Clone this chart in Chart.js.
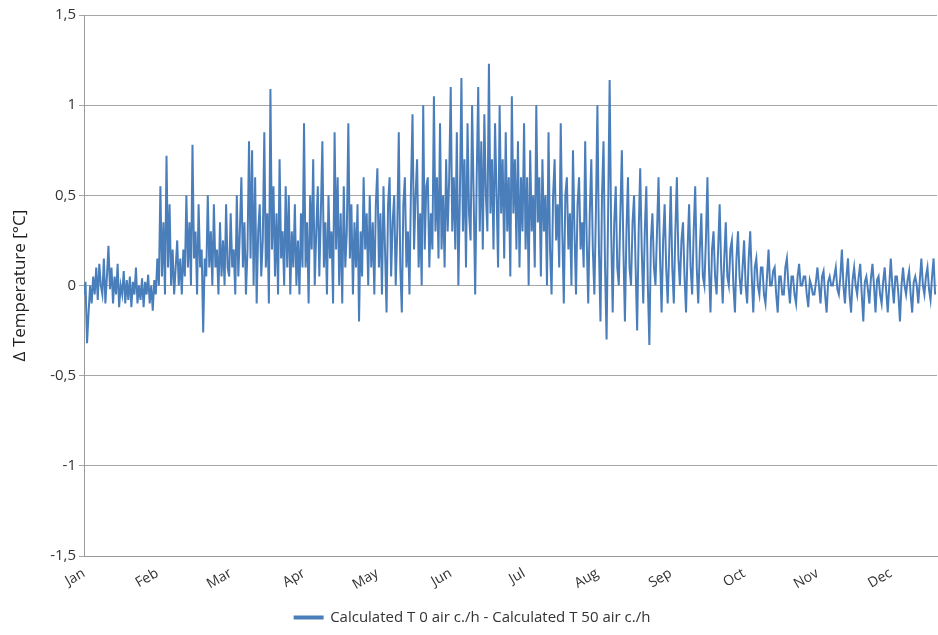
<!DOCTYPE html>
<html><head><meta charset="utf-8">
<script src="https://cdn.jsdelivr.net/npm/chart.js@4"></script>
<style>html,body{margin:0;background:#fff}#w{width:938px;height:635px}</style>
</head><body><div id="w"><canvas id="c"></canvas></div>
<script>
const months=["Jan","Feb","Mar","Apr","May","Jun","Jul","Aug","Sep","Oct","Nov","Dec"];
const seriesLabel="Calculated T 0 air c./h - Calculated T 50 air c./h";
const jan=[-0.05,0.02,-0.32,-0.15,0.0,-0.1,0.05,-0.05,0.1,-0.08,0.12,0.0,-0.05,0.15,-0.1,0.05,0.22,-0.02,0.1,-0.1,0.05,-0.05,0.12,-0.12,0.0,-0.05,0.08,-0.1,0.03,-0.08,0.05,-0.12,0.02,-0.05,0.1,-0.1,0.0,-0.08,0.04,-0.12,0.02,-0.05,0.06,-0.1,0.0,-0.14,0.03,-0.05];
const feb=[0.15,0.0,0.55,0.05,0.35,-0.05,0.72,0.1,0.45,0.0,0.2,-0.05,0.1,0.25,0.0,0.15,-0.05,0.2,0.05,0.5,0.1,0.35,0.0,0.78,0.15,0.3,-0.05,0.45,0.1,0.2,-0.26,0.15,0.05,0.5,0.1,0.3,0.0,0.45,0.1,0.2,-0.05,0.35,0.05,0.25,0.0,0.45,0.1,0.05];
const mar=[0.4,0.1,0.2,-0.05,0.5,0.05,0.3,0.6,0.1,0.35,-0.05,0.2,0.8,0.15,0.75,0.0,0.6,-0.1,0.3,0.45,0.05,0.25,0.85,0.1,0.4,-0.1,1.09,0.2,0.55,0.05,0.4,-0.05,0.7,0.15,0.3,0.0,0.55,0.1,0.5,-0.05,0.3,0.1,0.45,0.0,0.25,-0.05,0.4,0.1];
const apr=[0.9,0.1,0.35,-0.1,0.5,0.2,0.7,0.0,0.3,0.55,0.05,0.4,0.8,0.1,0.35,-0.05,0.5,0.15,0.3,-0.1,0.85,0.2,0.6,0.0,0.4,-0.1,0.55,0.1,0.3,0.9,0.15,0.45,-0.05,0.35,0.1,0.45,-0.2,0.3,0.05,0.6,0.2,0.4,0.0,0.5,0.1,0.35,-0.05,0.45];
const may=[0.65,0.1,0.4,-0.05,0.55,0.2,-0.15,0.45,0.6,0.05,0.35,0.5,0.0,0.3,0.85,0.1,-0.15,0.45,0.6,0.1,0.3,-0.05,0.55,0.95,0.2,0.5,0.7,0.1,0.4,0.0,1.0,0.2,0.55,0.6,0.1,0.4,0.2,1.05,0.3,0.6,0.15,0.9,0.2,0.5,0.1,0.7,0.3,0.6];
const jun=[1.1,0.3,0.6,0.2,0.85,0.0,0.5,1.15,0.3,0.7,0.1,0.9,0.4,0.25,1.0,0.5,-0.05,0.6,1.1,0.3,0.8,0.2,0.95,0.5,0.3,1.23,0.4,0.7,0.2,0.9,0.5,0.1,1.0,0.4,0.7,0.15,0.85,0.3,0.6,0.05,1.05,0.4,0.7,0.2,0.8,0.1,0.6,0.3];
const jul=[0.9,0.2,0.6,0.0,0.75,0.3,0.5,0.1,1.0,0.35,0.6,0.05,0.7,0.3,0.5,0.0,0.85,0.2,-0.05,0.5,0.7,0.25,0.45,0.1,0.9,0.3,-0.1,0.5,0.6,0.2,0.4,0.0,0.75,0.3,-0.05,0.45,0.6,0.2,0.35,0.1,0.8,0.25,-0.1,0.4,0.7,0.2,-0.05,0.4];
const aug=[1.0,0.2,-0.2,0.5,0.8,0.1,-0.3,0.4,1.14,0.3,-0.15,0.35,0.55,0.1,0.0,0.4,0.75,0.2,-0.2,0.3,0.6,0.1,0.0,0.35,0.5,0.1,-0.25,0.3,0.65,0.2,-0.1,0.3,0.55,0.0,-0.33,0.25,0.4,0.1,0.0,0.3,0.6,0.15,-0.15,0.25,0.45,0.1,-0.1,0.2];
const sep=[0.55,0.1,-0.1,0.3,0.6,0.15,0.0,0.25,0.35,0.05,-0.15,0.2,0.45,0.1,-0.05,0.3,0.55,0.1,-0.1,0.2,0.4,0.05,0.0,0.25,0.6,0.1,-0.15,0.2,0.3,0.05,-0.05,0.2,0.45,0.1,-0.1,0.15,0.35,0.05,0.0,0.2,0.25,0.0,-0.15,0.15,0.3,0.05,-0.05,0.1];
const oct=[0.25,0.0,-0.1,0.15,0.3,0.05,-0.15,0.1,0.15,0.0,-0.05,0.1,0.1,-0.05,-0.1,0.05,0.2,0.0,0.0,0.08,0.1,-0.05,-0.15,0.05,0.05,-0.05,-0.05,0.1,0.15,0.0,-0.1,0.05,0.05,-0.05,-0.1,0.05,0.12,0.0,0.0,0.05,0.05,-0.05,-0.12,0.03,0.0,-0.05,-0.05,0.02];
const nov=[0.1,0.0,-0.1,0.05,0.08,-0.05,-0.15,0.02,0.05,0.0,0.0,0.05,0.1,-0.02,-0.05,0.05,0.2,0.0,-0.1,0.05,0.15,-0.05,-0.15,0.03,0.1,0.0,-0.05,0.05,0.12,-0.05,-0.2,0.02,0.05,-0.02,-0.1,0.04,0.12,0.0,-0.15,0.03,0.05,-0.05,-0.1,0.02,0.1,-0.03,-0.15,0.0];
const dec=[0.15,0.0,-0.1,0.05,0.05,-0.05,-0.2,0.0,0.1,0.0,-0.05,0.03,0.08,-0.05,-0.15,0.02,0.05,0.0,-0.1,0.03,0.15,0.0,-0.05,0.05,0.1,-0.02,-0.08,0.05,0.15,-0.05];
const monthly=[jan,feb,mar,apr,may,jun,jul,aug,sep,oct,nov,dec];
const pts=[];
monthly.forEach((arr,m)=>arr.forEach((v,j)=>pts.push({x:m+j/48,y:v})));
const F="'Open Sans','Liberation Sans',Arial,sans-serif";
new Chart(document.getElementById('c'),{
 type:'line',
 data:{datasets:[{label:seriesLabel,data:pts,borderColor:'#4a7ebb',backgroundColor:'#4a7ebb',borderWidth:2,pointRadius:0,tension:0}]},
 options:{responsive:true,maintainAspectRatio:false,animation:false,
  layout:{padding:{top:15,right:1,left:8,bottom:0}},
  plugins:{legend:{position:'bottom',labels:{boxWidth:28,boxHeight:2,padding:6,font:{family:F,size:15},color:'#333'}},tooltip:{enabled:false}},
  scales:{
   x:{type:'linear',min:0,max:11.63,
    grid:{display:false,drawTicks:true,tickLength:5,color:'#999'},border:{color:'#999'},
    afterBuildTicks:a=>{a.ticks=months.map((_,i)=>({value:i}));},
    afterFit:a=>{a.height=48;},
    ticks:{autoSkip:false,maxRotation:30,minRotation:30,padding:4,color:'#333',font:{family:F,size:14},callback:v=>months[v]}},
   y:{min:-1.5,max:1.5,
    afterFit:a=>{a.width=76;},
    grid:{color:'#a6a6a6',tickLength:5},border:{color:'#999'},
    ticks:{stepSize:0.5,color:'#333',font:{family:F,size:15},callback:v=>String(v).replace('.',',')},
    title:{display:true,text:'Δ Temperature [°C]',color:'#222',padding:2,font:{family:F,size:17}}}
  }}
});
</script></body></html>
